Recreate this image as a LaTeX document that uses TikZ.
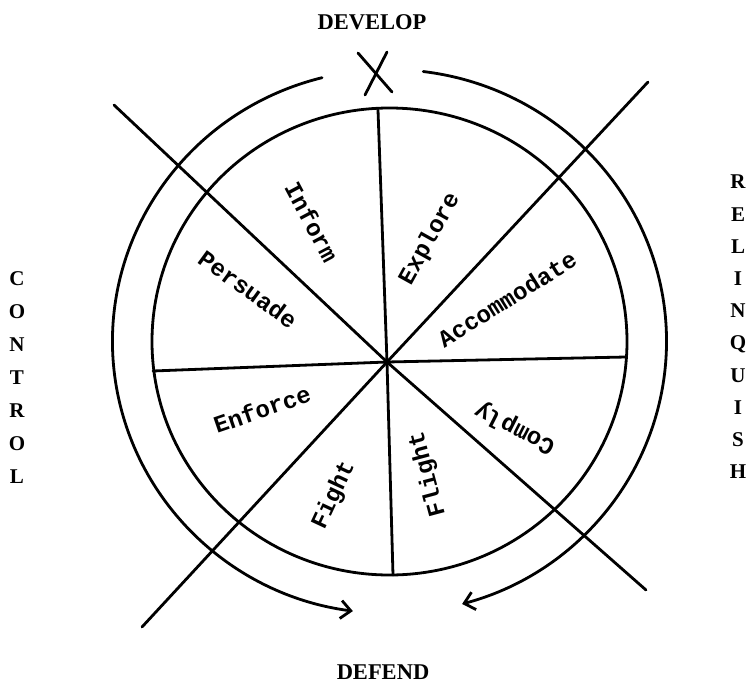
\documentclass[tikz,border=0pt]{standalone}
\usepackage{fontspec}
\setmainfont{Liberation Serif}
\newfontfamily\typew{Liberation Mono}
\usetikzlibrary{arrows.meta,calc}
\begin{document}
\begin{tikzpicture}[x=1pt,y=-1pt,
  stroke/.style={line width=2.8pt, line cap=round},
  sector/.style={font=\typew\bfseries\fontsize{24}{24}\selectfont, inner sep=0pt},
  outer/.style={font=\bfseries\fontsize{22.5}{22.5}\selectfont, inner sep=0pt},
  vert/.style={font=\bfseries\fontsize{21}{33}\selectfont, align=center, inner sep=0pt},
  tip/.style={-{Straight Barb[length=10pt,width=18pt,line width=2.8pt]}}
]
\useasboundingbox (0,0) rectangle (748,683);
% centres
\coordinate (c) at (389.5,341.5);
\coordinate (h) at (387,362);
% inner circle
\draw[stroke] (c) ellipse [x radius=237.5, y radius=233.5];
% outer arrowed arcs
\draw[stroke,tip] (c) ++(-104.1:277 and 272) arc [start angle=-104.1, end angle=-262.4, x radius=277, y radius=272];
\draw[stroke,tip] (c) ++(-83:277 and 272) arc [start angle=-83, end angle=74.8, x radius=277, y radius=272];
% spoke ends
\coordinate (tl) at (114,105);
\coordinate (tr) at (648,82);
\coordinate (bl) at (142,627);
\coordinate (br) at (646,590);
\coordinate (vt) at (378,110);
\coordinate (vb) at (393,575);
\coordinate (hl) at (153,371);
\coordinate (hr) at (626,357);
\draw[stroke] (tl) -- (h) -- (br);
\draw[stroke] (tr) -- (h) -- (bl);
\draw[stroke] (vt) -- (h) -- (vb);
\draw[stroke] (hl) -- (h) -- (hr);
% X mark
\coordinate (x1) at (358,53);
\coordinate (x2) at (392,92);
\coordinate (x3) at (387,52);
\coordinate (x4) at (365,95);
\draw[stroke] (x1) -- (x2);
\draw[stroke] (x3) -- (x4);
% sector labels
\node[sector, rotate=-62] (inform) at (312,222) {Inform};
\node[sector, rotate=-36] (persuade) at (248,289) {Persuade};
\node[sector, rotate=61] (explore) at (430,239) {Explore};
\node[sector, rotate=32] (accom) at (507,299) {Accommodate};
\node[sector, rotate=19] (enforce) at (262,409) {Enforce};
\node[sector, rotate=65] (fight) at (334,495) {Fight};
\node[sector, rotate=105] (flight) at (428,474) {Flight};
\node[sector, rotate=153] (comply) at (515,428) {Comply};
% outer labels
\node[outer] (develop) at (372,22) {DEVELOP};
\node[outer] (defend) at (383,672) {DEFEND};
\node[vert] (control) at (17,377.5) {C\\O\\N\\T\\R\\O\\L};
\node[vert, font=\bfseries\fontsize{21}{32.2}\selectfont] (relinquish) at (738,327) {R\\E\\L\\I\\N\\Q\\U\\I\\S\\H};
\end{tikzpicture}
\end{document}
